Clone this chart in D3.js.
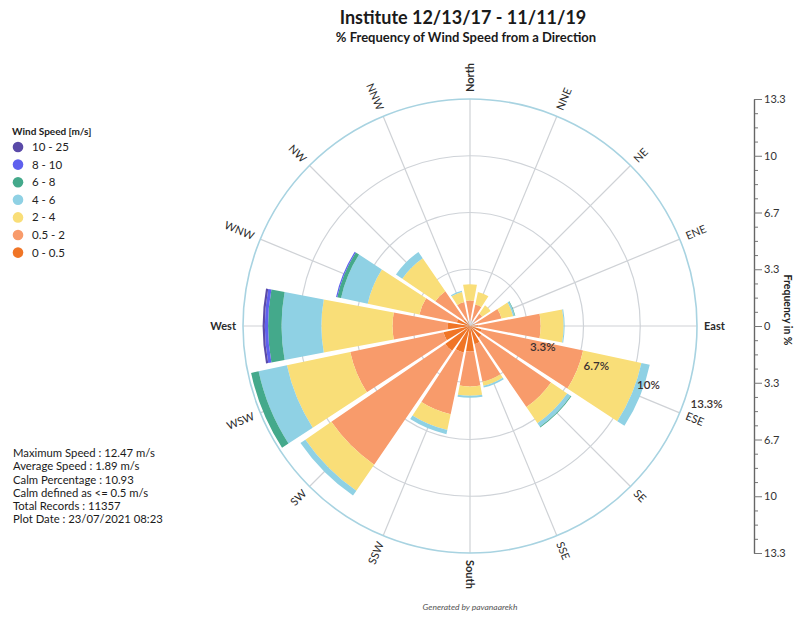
<!DOCTYPE html>
<html>
<head>
<meta charset="utf-8">
<script src="https://cdn.jsdelivr.net/npm/d3@7"></script>
<style>
  html, body { margin: 0; padding: 0; background: #fff; }
  svg { display: block; font-family: Lato, "Open Sans", sans-serif; }
</style>
</head>
<body>
<svg id="chart" width="797" height="624"></svg>
<script>
// Wind directions (clockwise from North) and speed classes
const directions = ["North", "NNE", "NE", "ENE", "East", "ESE", "SE", "SSE",
                    "South", "SSW", "SW", "WSW", "West", "WNW", "NW", "NNW"];
const speedBins = ["0 - 0.5", "0.5 - 2", "2 - 4", "4 - 6", "6 - 8", "8 - 10", "10 - 25"];
const binColors = ["#f07526", "#f89b6b", "#f9de78", "#8fd1e4", "#44a98b", "#5f60ee", "#5a4aa8"];

// % frequency per direction, one array per speed class
const freq_0_05  = [0.25, 0.25, 0.25, 0.30, 0.50, 0.70, 0.85, 1.10, 1.50, 1.60, 1.80, 1.60, 1.30, 0.80, 0.50, 0.30];
const freq_05_2  = [1.25, 1.05, 0.65, 1.60, 3.65, 6.10, 4.95, 2.25, 2.05, 3.70, 8.10, 5.60, 3.25, 2.25, 2.00, 1.15];
const freq_2_4   = [0.95, 0.75, 0.60, 0.70, 1.35, 3.50, 1.15, 0.25, 0.55, 0.95, 1.85, 3.80, 4.18, 3.10, 2.35, 0.60];
const freq_4_6   = [0.00, 0.00, 0.00, 0.10, 0.06, 0.50, 0.25, 0.10, 0.12, 0.25, 0.35, 1.70, 2.34, 1.60, 0.45, 0.07];
const freq_6_8   = [0.00, 0.00, 0.00, 0.03, 0.00, 0.00, 0.05, 0.00, 0.00, 0.00, 0.00, 0.45, 0.79, 0.23, 0.00, 0.00];
const freq_8_10  = [0.00, 0.00, 0.00, 0.00, 0.00, 0.00, 0.00, 0.00, 0.00, 0.00, 0.00, 0.00, 0.19, 0.07, 0.00, 0.00];
const freq_10_25 = [0.00, 0.00, 0.00, 0.00, 0.00, 0.00, 0.00, 0.00, 0.00, 0.00, 0.00, 0.00, 0.13, 0.00, 0.00, 0.00];
const binSeries = [freq_0_05, freq_05_2, freq_2_4, freq_4_6, freq_6_8, freq_8_10, freq_10_25];

// Radial rings and their labels
const ringValues = [10 / 3, 20 / 3, 10, 40 / 3];
const ringLabels = ["3.3%", "6.7%", "10%", "13.3%"];

// Side frequency axis
const axisTickValues = [40 / 3, 10, 20 / 3, 10 / 3, 0, -10 / 3, -20 / 3, -10, -40 / 3];
const axisTickLabels = ["13.3", "10", "6.7", "3.3", "0", "3.3", "6.7", "10", "13.3"];

const titleText = "Institute 12/13/17 - 11/11/19";
const subtitleText = "% Frequency of Wind Speed from a Direction";
const legendTitle = "Wind Speed [m/s]";
const statsLines = [
  "Maximum Speed : 12.47 m/s",
  "Average Speed : 1.89 m/s",
  "Calm Percentage : 10.93",
  "Calm defined as <= 0.5 m/s",
  "Total Records : 11357",
  "Plot Date : 23/07/2021 08:23"
];
const creditText = "Generated by pavanaarekh";

// ---- layout ----
const svg = d3.select("#chart");
const cx = 470, cy = 326, R = 227;
const rScale = d3.scaleLinear().domain([0, 40 / 3]).range([0, R]);
const toRad = d => d * Math.PI / 180;
const dirAngle = i => i * 22.5;

// Titles
svg.append("text").attr("x", 463).attr("y", 24).attr("text-anchor", "middle")
  .attr("font-size", 18).attr("font-weight", 700).attr("fill", "#1a1a1a").text(titleText);
svg.append("text").attr("x", 466).attr("y", 42).attr("text-anchor", "middle")
  .attr("font-size", 13).attr("font-weight", 700).attr("fill", "#1a1a1a").text(subtitleText);

const rose = svg.append("g").attr("transform", `translate(${cx},${cy})`);

// Grid: spokes and rings
rose.selectAll("line.spoke").data(directions).join("line")
  .attr("class", "spoke")
  .attr("x1", 0).attr("y1", 0)
  .attr("x2", (d, i) => rScale(40 / 3) * Math.sin(toRad(dirAngle(i))))
  .attr("y2", (d, i) => -rScale(40 / 3) * Math.cos(toRad(dirAngle(i))))
  .attr("stroke", "#cfd2d6").attr("stroke-width", 1.2);

rose.selectAll("circle.ring").data(ringValues).join("circle")
  .attr("class", "ring")
  .attr("r", d => rScale(d))
  .attr("fill", "none")
  .attr("stroke", (d, i) => i === ringValues.length - 1 ? "#a8d3e1" : "#cfd3d8")
  .attr("stroke-width", (d, i) => i === ringValues.length - 1 ? 1.6 : 1.2);

// Stacked bars
const halfWidth = toRad(10.6);
const arc = d3.arc().padAngle(0.02).padRadius(75);
const segments = [];
directions.forEach((dir, i) => {
  let base = 0;
  binSeries.forEach((series, b) => {
    const v = series[i];
    if (v > 0) {
      segments.push({ dir, i, b, r0: base, r1: base + v });
    }
    base += v;
  });
});
rose.selectAll("path.bar").data(segments).join("path")
  .attr("class", "bar")
  .attr("fill", d => binColors[d.b])
  .attr("d", d => arc({
    innerRadius: rScale(d.r0),
    outerRadius: rScale(d.r1),
    startAngle: toRad(dirAngle(d.i)) - halfWidth,
    endAngle: toRad(dirAngle(d.i)) + halfWidth
  }));

// Ring value labels along the ESE side
const labAng = toRad(109.5);
rose.selectAll("text.ringlab").data(ringValues).join("text")
  .attr("class", "ringlab")
  .attr("x", d => (rScale(d) + 7) * Math.sin(labAng))
  .attr("y", d => -(rScale(d) + 7) * Math.cos(labAng))
  .attr("dy", "0.35em")
  .attr("font-size", 11.5).attr("font-weight", 600).attr("fill", "#3a3030")
  .text((d, i) => ringLabels[i]);

// Direction labels around the rim
const cardinals = new Set(["North", "East", "South", "West"]);
rose.selectAll("text.dir").data(directions).join("text")
  .attr("class", "dir")
  .attr("transform", (d, i) => {
    const a = dirAngle(i);
    const rl = rScale(40 / 3) + 7;
    const x = rl * Math.sin(toRad(a)), y = -rl * Math.cos(toRad(a));
    const rot = a <= 180 ? a - 90 : a - 270;
    return `translate(${x},${y}) rotate(${rot})`;
  })
  .attr("text-anchor", (d, i) => dirAngle(i) <= 180 ? "start" : "end")
  .attr("dy", "0.35em")
  .attr("font-size", 11)
  .attr("font-weight", d => cardinals.has(d) ? 700 : 400)
  .attr("fill", "#2b2b2b")
  .text(d => d);

// Legend
const legend = svg.append("g").attr("transform", "translate(12,131)");
legend.append("text").attr("x", 0).attr("y", 0).attr("dy", "0.35em")
  .attr("font-size", 10).attr("font-weight", 700).attr("fill", "#222").text(legendTitle);
const legendOrder = d3.range(speedBins.length).reverse();
const legItems = legend.selectAll("g.item").data(legendOrder).join("g")
  .attr("class", "item")
  .attr("transform", (d, k) => `translate(0,${16 + k * 17.6})`);
legItems.append("circle").attr("cx", 6).attr("cy", 0).attr("r", 5.3)
  .attr("fill", d => binColors[d]);
legItems.append("text").attr("x", 20).attr("y", 0).attr("dy", "0.35em")
  .attr("font-size", 11.5).attr("fill", "#222").text(d => speedBins[d]);

// Summary statistics
svg.append("g").selectAll("text").data(statsLines).join("text")
  .attr("x", 13).attr("y", (d, k) => 453 + k * 13.3).attr("dy", "0.35em")
  .attr("font-size", 11.3).attr("fill", "#1a1a1a").text(d => d);

// Side frequency axis
const yAxisScale = d3.scaleLinear().domain([-40 / 3, 40 / 3]).range([cy + R, cy - R]);
const minorTicks = d3.range(-16, 17).map(k => k * 10 / 12).filter(v => Math.abs(v % (10 / 3)) > 1e-6 && Math.abs(Math.abs(v % (10 / 3)) - 10 / 3) > 1e-6);
const axisX = 754;
const minorAxis = svg.append("g").attr("transform", `translate(${axisX},0)`)
  .call(d3.axisRight(yAxisScale).tickValues(minorTicks).tickSize(4).tickSizeOuter(0).tickFormat(""));
const majorAxis = svg.append("g").attr("transform", `translate(${axisX},0)`)
  .call(d3.axisRight(yAxisScale).tickValues(axisTickValues).tickSize(8).tickSizeOuter(0)
    .tickFormat((d, k) => axisTickLabels[k]));
[minorAxis, majorAxis].forEach(g => {
  g.selectAll("path.domain").attr("stroke", "#666").attr("stroke-width", 1.2);
  g.selectAll(".tick line").attr("stroke", "#777");
});
majorAxis.selectAll(".tick text").attr("x", 10).attr("font-size", 11)
  .attr("font-family", "Lato, sans-serif").attr("fill", "#333");
svg.append("text")
  .attr("transform", "translate(788,310) rotate(90)")
  .attr("text-anchor", "middle").attr("dy", "0.35em")
  .attr("font-size", 10.5).attr("font-weight", 700).attr("fill", "#222")
  .text("Frequency in %");

// Credit line
svg.append("text").attr("x", 470).attr("y", 607).attr("text-anchor", "middle")
  .attr("dy", "0.35em").attr("font-size", 8.5).attr("font-style", "italic")
  .attr("fill", "#555").text(creditText);
</script>
</body>
</html>
